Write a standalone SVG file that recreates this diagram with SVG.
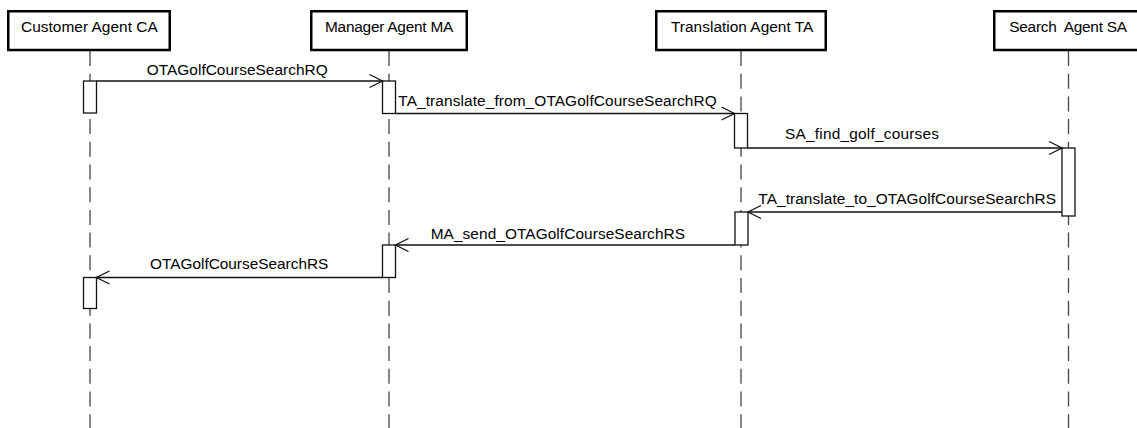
<svg xmlns="http://www.w3.org/2000/svg" width="1137" height="428" viewBox="0 0 1137 428">
<style>
.box{fill:#fff;stroke:#000;stroke-width:2.5}
.life{stroke:#444;stroke-width:1.3;stroke-dasharray:15 7.7;fill:none}
.act{fill:#fff;stroke:#111;stroke-width:1.3}
.msg{stroke:#111;stroke-width:1.3;fill:none;marker-end:url(#open)}
text{font-family:"Liberation Sans",Arial,sans-serif;font-size:15.4px;fill:#000}
</style>
<defs>
<marker id="open" markerUnits="userSpaceOnUse" viewBox="-15 -8 17 16" markerWidth="17" markerHeight="16" refX="0" refY="0" orient="auto" overflow="visible">
<path d="M-13,-6.5 L0,0 L-13,6.5" fill="none" stroke="#111" stroke-width="1.3"/>
</marker>
</defs>
<rect width="1137" height="428" fill="#fff"/>
<g id="lifelines">
<line class="life" x1="90" y1="51" x2="90" y2="428"/>
<line class="life" x1="389" y1="51" x2="389" y2="428"/>
<line class="life" x1="741" y1="51" x2="741" y2="428"/>
<line class="life" x1="1068.5" y1="51" x2="1068.5" y2="428"/>
</g>
<g id="CA">
<rect class="box" x="8.25" y="11.25" width="161.5" height="38.75"/>
<text x="21" y="31.7" textLength="136.7">Customer Agent CA</text>
</g>
<g id="MA">
<rect class="box" x="311.25" y="11.25" width="155.5" height="38.75"/>
<text x="325" y="31.7" textLength="128.3">Manager Agent MA</text>
</g>
<g id="TA">
<rect class="box" x="656.25" y="11.25" width="169.5" height="38.75"/>
<text x="671" y="31.7" textLength="142.3">Translation Agent TA</text>
</g>
<g id="SA">
<rect class="box" x="994.25" y="11.25" width="148" height="38.75"/>
<text x="1009.3" y="31.7" textLength="117.7" xml:space="preserve">Search  Agent SA</text>
</g>
<g id="activations">
<rect class="act" x="83.5" y="81" width="13" height="32"/>
<rect class="act" x="382.5" y="81" width="13" height="32.5"/>
<rect class="act" x="734.5" y="113.5" width="13" height="34.5"/>
<rect class="act" x="1062" y="148" width="13" height="68"/>
<rect class="act" x="735" y="212" width="13" height="33"/>
<rect class="act" x="382.5" y="245" width="13" height="32.5"/>
<rect class="act" x="83.5" y="277.5" width="13" height="31"/>
</g>
<g id="connectors">
<line class="msg" x1="96.5" y1="81" x2="382.5" y2="81"/>
<line class="msg" x1="395.5" y1="113.5" x2="734.5" y2="113.5"/>
<line class="msg" x1="747.5" y1="148" x2="1062" y2="148"/>
<line class="msg" x1="1062" y1="212" x2="748" y2="212"/>
<line class="msg" x1="735" y1="245" x2="395.5" y2="245"/>
<line class="msg" x1="382.5" y1="277.5" x2="96.5" y2="277.5"/>
<text x="146.7" y="75" textLength="181">OTAGolfCourseSearchRQ</text>
<text x="398.3" y="106" textLength="318.4">TA_translate_from_OTAGolfCourseSearchRQ</text>
<text x="785" y="139" textLength="154">SA_find_golf_courses</text>
<text x="758.3" y="203.5" textLength="297.7">TA_translate_to_OTAGolfCourseSearchRS</text>
<text x="430.7" y="238.5" textLength="254.3">MA_send_OTAGolfCourseSearchRS</text>
<text x="150" y="269" textLength="178.3">OTAGolfCourseSearchRS</text>
</g>
</svg>
